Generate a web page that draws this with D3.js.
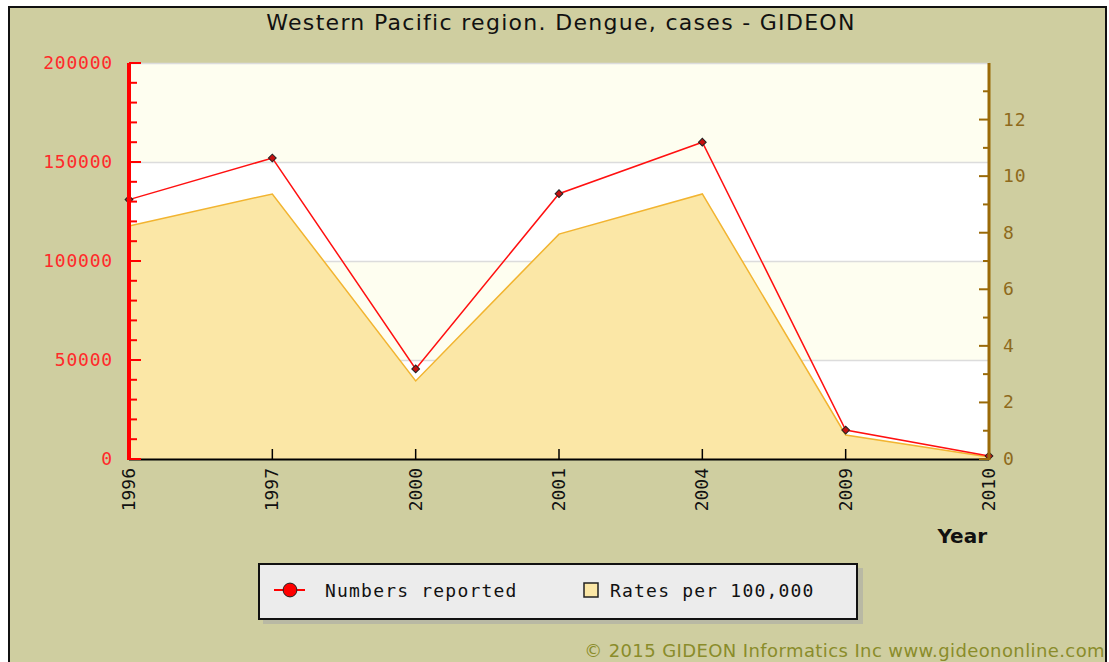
<!DOCTYPE html>
<html>
<head>
<meta charset="utf-8">
<script src="https://cdn.jsdelivr.net/npm/d3@7"></script>
<style>
  html, body { margin: 0; padding: 0; background: #ffffff; }
  svg { display: block; }
</style>
</head>
<body>
<div class="chart"></div>
<script>
// data
const years = ["1996", "1997", "2000", "2001", "2004", "2009", "2010"];
const numbersReported = [131000, 152000, 45500, 134000, 160000, 14600, 1500];
const ratesPer100k = [8.24, 9.37, 2.76, 7.95, 9.37, 0.85, 0.07];
const leftTicks = [0, 50000, 100000, 150000, 200000];
const rightTicks = [0, 2, 4, 6, 8, 10, 12];

const width = 1109, height = 662;
const plot = { left: 129, top: 63, right: 989, bottom: 459 };
const mono = "'DejaVu Sans Mono', monospace";

let svg = d3.select(".chart")
    .append("svg")
    .attr("width", width)
    .attr("height", height);

// background + frame
svg.append("rect").attr("x", 0).attr("y", 0).attr("width", width).attr("height", height).attr("fill", "#ffffff");
svg.append("rect")
    .attr("x", 9).attr("y", 7).attr("width", 1097).attr("height", 670)
    .attr("fill", "#cfcea0").attr("stroke", "#111").attr("stroke-width", 2);

// #region scales
let x = d3.scalePoint().domain(years).range([plot.left, plot.right]).padding(0);
let yLeft = d3.scaleLinear().domain([0, 200000]).range([plot.bottom, plot.top]);
let yRight = d3.scaleLinear().domain([0, 14]).range([plot.bottom, plot.top]);
// #endregion

// #region bands + grid
let bands = d3.pairs(leftTicks);
svg.append("g").selectAll("rect")
    .data(bands)
    .enter()
    .append("rect")
    .attr("x", plot.left)
    .attr("width", plot.right - plot.left)
    .attr("y", d => yLeft(d[1]))
    .attr("height", d => yLeft(d[0]) - yLeft(d[1]))
    .attr("fill", (d, i) => i % 2 == 0 ? "#ffffff" : "#fefef0");

svg.append("g").selectAll("line")
    .data(leftTicks.slice(1))
    .enter()
    .append("line")
    .attr("x1", plot.left).attr("x2", plot.right)
    .attr("y1", d => yLeft(d) + 0.5).attr("y2", d => yLeft(d) + 0.5)
    .attr("stroke", "#dcdcdc").attr("stroke-width", 1.5);
// #endregion

// #region area (rates)
let area = d3.area()
    .x((d, i) => x(years[i]))
    .y0(plot.bottom)
    .y1(d => yRight(d));
svg.append("path")
    .datum(ratesPer100k)
    .attr("d", area)
    .attr("fill", "#fbe7a6");
svg.append("path")
    .datum(ratesPer100k)
    .attr("d", d3.line().x((d, i) => x(years[i])).y(d => yRight(d)))
    .attr("fill", "none")
    .attr("stroke", "#f2b430")
    .attr("stroke-width", 1.5);
// #endregion

// #region line (numbers)
svg.append("path")
    .datum(numbersReported)
    .attr("d", d3.line().x((d, i) => x(years[i])).y(d => yLeft(d)))
    .attr("fill", "none")
    .attr("stroke", "#ff1010")
    .attr("stroke-width", 1.5);
svg.append("g").selectAll("path")
    .data(numbersReported)
    .enter()
    .append("path")
    .attr("d", d3.symbol(d3.symbolSquare, 30))
    .attr("transform", (d, i) => "translate(" + x(years[i]) + "," + yLeft(d) + ") rotate(45)")
    .attr("fill", "#c41010")
    .attr("stroke", "#222")
    .attr("stroke-width", 1);
// #endregion

// #region axes
// x axis
let gX = svg.append("g").attr("transform", "translate(0," + plot.bottom + ")");
gX.append("line").attr("x1", plot.left).attr("x2", plot.right).attr("y1", 0.5).attr("y2", 0.5)
    .attr("stroke", "#000").attr("stroke-width", 2);
gX.selectAll(".tk").data(years).enter().append("line")
    .attr("x1", d => x(d)).attr("x2", d => x(d)).attr("y1", 0).attr("y2", -10)
    .attr("stroke", "#000").attr("stroke-width", 1.5);
gX.selectAll("text").data(years).enter().append("text")
    .attr("transform", d => "translate(" + (x(d) + 6) + ",9) rotate(-90)")
    .attr("text-anchor", "end")
    .attr("font-family", mono).attr("font-size", 18)
    .attr("fill", "#111")
    .text(d => d);

// left axis
let gL = svg.append("g");
gL.append("line").attr("x1", plot.left).attr("x2", plot.left).attr("y1", plot.top).attr("y2", plot.bottom + 1)
    .attr("stroke", "#ff0000").attr("stroke-width", 4);
gL.selectAll(".minor").data(d3.range(0, 200001, 10000)).enter().append("line")
    .attr("x1", plot.left).attr("x2", d => plot.left + (d % 50000 == 0 ? 12 : 8))
    .attr("y1", d => yLeft(d)).attr("y2", d => yLeft(d))
    .attr("stroke", "#ff0000").attr("stroke-width", 2);
gL.selectAll("text").data(leftTicks).enter().append("text")
    .attr("x", 113).attr("y", d => yLeft(d) + 6)
    .attr("text-anchor", "end")
    .attr("font-family", mono).attr("font-size", 18).attr("letter-spacing", 0.8)
    .attr("fill", "#ff2a2a")
    .text(d => d);

// right axis
let gR = svg.append("g");
gR.append("line").attr("x1", plot.right).attr("x2", plot.right).attr("y1", plot.top).attr("y2", plot.bottom + 1)
    .attr("stroke", "#9a6a08").attr("stroke-width", 3);
gR.selectAll(".minor").data(d3.range(0, 14, 1)).enter().append("line")
    .attr("x1", plot.right).attr("x2", d => plot.right - (d % 2 == 0 ? 10 : 6))
    .attr("y1", d => yRight(d)).attr("y2", d => yRight(d))
    .attr("stroke", "#9a6a08").attr("stroke-width", 2);
gR.selectAll("text").data(rightTicks).enter().append("text")
    .attr("x", 1003).attr("y", d => yRight(d) + 6)
    .attr("font-family", mono).attr("font-size", 18).attr("letter-spacing", 0.8)
    .attr("fill", "#8e6a1c")
    .text(d => d);
// #endregion

// #region titles
svg.append("text")
    .attr("x", 561).attr("y", 30)
    .attr("text-anchor", "middle")
    .attr("font-family", "'DejaVu Sans', sans-serif").attr("font-size", 22).attr("letter-spacing", 1.3)
    .attr("fill", "#111")
    .text("Western Pacific region. Dengue, cases - GIDEON");

svg.append("text")
    .attr("x", 987).attr("y", 543)
    .attr("text-anchor", "end")
    .attr("font-family", "'DejaVu Sans', sans-serif").attr("font-size", 20).attr("font-weight", "bold")
    .attr("fill", "#111")
    .text("Year");

svg.append("text")
    .attr("x", 1105).attr("y", 657)
    .attr("text-anchor", "end")
    .attr("font-family", "'DejaVu Sans', sans-serif").attr("font-size", 18).attr("letter-spacing", 0.4)
    .attr("fill", "#8a8c2a")
    .text("\u00a9 2015 GIDEON Informatics Inc www.gideononline.com");
// #endregion

// #region legend
let gLegend = svg.append("g");
gLegend.append("rect").attr("x", 263).attr("y", 568).attr("width", 600).attr("height", 56).attr("fill", "#b9b9a4");
gLegend.append("rect").attr("x", 259).attr("y", 564).attr("width", 598).attr("height", 55)
    .attr("fill", "#ececec").attr("stroke", "#111").attr("stroke-width", 2);
gLegend.append("line").attr("x1", 274).attr("x2", 305).attr("y1", 590).attr("y2", 590)
    .attr("stroke", "#ff0000").attr("stroke-width", 2);
gLegend.append("path").attr("d", d3.symbol(d3.symbolCircle, 150))
    .attr("transform", "translate(290,590)")
    .attr("fill", "#ff0000").attr("stroke", "#222").attr("stroke-width", 1);
gLegend.append("text").attr("x", 325).attr("y", 597)
    .attr("font-family", mono).attr("font-size", 18).attr("letter-spacing", 1.2)
    .attr("fill", "#111").text("Numbers reported");
gLegend.append("rect").attr("x", 584).attr("y", 583).attr("width", 14).attr("height", 14)
    .attr("fill", "#fbe7a6").attr("stroke", "#222").attr("stroke-width", 1.5);
gLegend.append("text").attr("x", 610).attr("y", 597)
    .attr("font-family", mono).attr("font-size", 18).attr("letter-spacing", 1.2)
    .attr("fill", "#111").text("Rates per 100,000");
// #endregion
</script>
</body>
</html>
